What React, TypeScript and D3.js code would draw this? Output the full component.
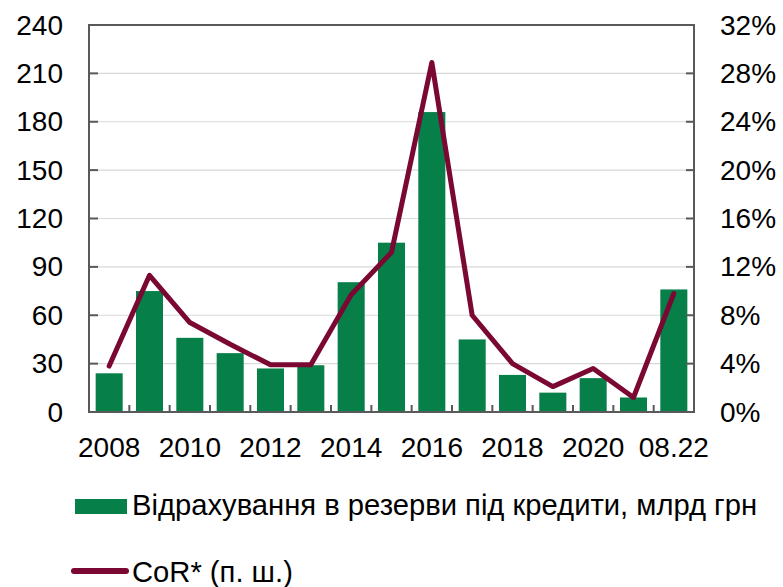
import React from "react"
import * as d3 from "d3"

// ── Data ───────────────────────────────────────────────────────────────────────

const CATEGORIES = [
  "2008", "2009", "2010", "2011", "2012", "2013", "2014", "2015",
  "2016", "2017", "2018", "2019", "2020", "2021", "08.22",
]
const SHOWN_LABELS = ["2008", "2010", "2012", "2014", "2016", "2018", "2020", "08.22"]

// Відрахування в резерви, млрд грн
const PROVISIONS = [24, 75, 46, 36.5, 27, 29, 80.5, 105, 186, 45, 23, 12, 21, 9, 76]
// CoR, %
const COR = [3.8, 11.3, 7.4, 5.6, 3.9, 3.9, 9.7, 13.2, 28.9, 8.0, 4.0, 2.1, 3.6, 1.2, 9.8]

const LEFT_TICKS = [0, 30, 60, 90, 120, 150, 180, 210, 240]
const RIGHT_TICKS = [0, 4, 8, 12, 16, 20, 24, 28, 32]

const BAR_LABEL = "Відрахування в резерви під кредити, млрд грн"
const LINE_LABEL = "CoR* (п. ш.)"

// ── Styles ─────────────────────────────────────────────────────────────────────

const GREEN = "#067f48"
const MAROON = "#7a0832"
const AXIS = "#595959"
const GRID = "#d9d9d9"
const FONT = "'Liberation Sans', Arial, sans-serif"

export default function App() {
  const width = 783
  const height = 587
  const plot = { left: 89, right: 694, top: 25, bottom: 412 }

  const x = d3
    .scaleBand<string>()
    .domain(CATEGORIES)
    .range([plot.left, plot.right])
    .paddingInner(0.33)
    .paddingOuter(0.165)
  const step = x.step()
  const yL = d3.scaleLinear().domain([0, 240]).range([plot.bottom, plot.top])
  const yR = d3.scaleLinear().domain([0, 32]).range([plot.bottom, plot.top])

  const line = d3
    .line<number>()
    .x((_, i) => (x(CATEGORIES[i]) ?? 0) + x.bandwidth() / 2)
    .y(d => yR(d))

  // band boundaries for the x ticks
  const boundaries = CATEGORIES.slice(1).map(c => (x(c) ?? 0) - (step - x.bandwidth()) / 2)

  return (
    <svg
      width={width}
      height={height}
      style={{ position: "absolute", left: 0, top: 0, background: "#fff" }}
      fontFamily={FONT}
    >
      {/* Grid */}
      {LEFT_TICKS.slice(1, -1).map(t => (
        <line
          key={t}
          x1={plot.left}
          x2={plot.right}
          y1={yL(t)}
          y2={yL(t)}
          stroke={GRID}
          strokeWidth={1.2}
        />
      ))}

      {/* Bars */}
      {PROVISIONS.map((v, i) => (
        <rect
          key={CATEGORIES[i]}
          x={x(CATEGORIES[i])}
          y={yL(v)}
          width={x.bandwidth()}
          height={yL(0) - yL(v)}
          fill={GREEN}
        />
      ))}

      {/* Frame */}
      <rect
        x={plot.left}
        y={plot.top}
        width={plot.right - plot.left}
        height={plot.bottom - plot.top}
        fill="none"
        stroke={AXIS}
        strokeWidth={2}
      />

      {/* Y ticks (inward) */}
      {LEFT_TICKS.slice(1, -1).map(t => (
        <g key={`t-${t}`}>
          <line x1={plot.left} x2={plot.left + 9} y1={yL(t)} y2={yL(t)} stroke={AXIS} strokeWidth={2} />
          <line x1={plot.right - 8} x2={plot.right} y1={yL(t)} y2={yL(t)} stroke={AXIS} strokeWidth={2} />
        </g>
      ))}

      {/* X ticks (inward) */}
      {boundaries.map((b, i) => (
        <line key={i} x1={b} x2={b} y1={plot.bottom} y2={plot.bottom - 7} stroke={AXIS} strokeWidth={2} />
      ))}

      {/* Line */}
      <path
        d={line(COR) ?? ""}
        fill="none"
        stroke={MAROON}
        strokeWidth={5}
        strokeLinejoin="round"
        strokeLinecap="round"
      />

      {/* Left labels */}
      {LEFT_TICKS.map(t => (
        <text
          key={`l-${t}`}
          x={63}
          y={yL(t)}
          textAnchor="end"
          dominantBaseline="central"
          fontSize={28}
          fill="#000"
        >
          {t}
        </text>
      ))}

      {/* Right labels */}
      {RIGHT_TICKS.map(t => (
        <text
          key={`r-${t}`}
          x={720}
          y={yR(t)}
          textAnchor="start"
          dominantBaseline="central"
          fontSize={28}
          fill="#000"
        >
          {t}%
        </text>
      ))}

      {/* X labels */}
      {SHOWN_LABELS.map(c => (
        <text
          key={`x-${c}`}
          x={(x(c) ?? 0) + x.bandwidth() / 2}
          y={457}
          textAnchor="middle"
          fontSize={28}
          fill="#000"
        >
          {c}
        </text>
      ))}

      {/* Legend */}
      <rect x={75} y={499} width={52} height={15} fill={GREEN} />
      <text x={132} y={515} fontSize={29.2} fill="#000">
        {BAR_LABEL}
      </text>
      <line x1={74} x2={126} y1={571} y2={571} stroke={MAROON} strokeWidth={6} strokeLinecap="round" />
      <text x={132} y={582} fontSize={29.2} fill="#000">
        {LINE_LABEL}
      </text>
    </svg>
  )
}
